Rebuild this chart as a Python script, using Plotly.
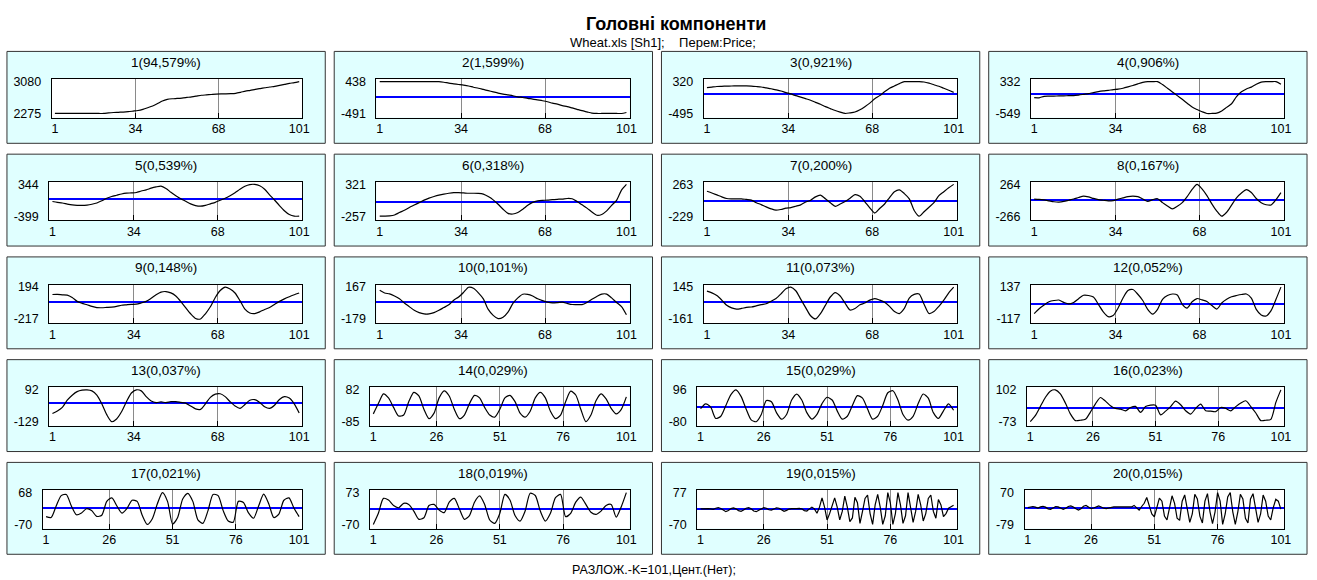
import plotly.graph_objects as go

W, H = 1317, 580
X_ODD = list(range(1, 102, 2))
X_ALL = list(range(1, 102))

TITLES = ["1(94,579%)", "2(1,599%)", "3(0,921%)", "4(0,906%)", "5(0,539%)",
          "6(0,318%)", "7(0,200%)", "8(0,167%)", "9(0,148%)", "10(0,101%)",
          "11(0,073%)", "12(0,052%)", "13(0,037%)", "14(0,029%)", "15(0,029%)",
          "16(0,023%)", "17(0,021%)", "18(0,019%)", "19(0,015%)", "20(0,015%)"]
Y_TOP = [3080, 438, 320, 332, 344, 321, 263, 264, 194, 167,
         145, 137, 92, 82, 96, 102, 68, 73, 77, 70]
Y_BOT = [2275, -491, -495, -549, -399, -257, -229, -266, -217, -179,
         -161, -117, -129, -85, -80, -73, -70, -70, -70, -79]
XT_A = [1, 34, 68, 101]
XT_B = [1, 26, 51, 76, 101]

S1 = [2275, 2275, 2275, 2275, 2275, 2275, 2275, 2275, 2275, 2275,
      2275, 2290, 2300, 2305, 2310, 2320, 2335, 2350, 2379, 2420,
      2465, 2525, 2590, 2630, 2647, 2655, 2665, 2680, 2695, 2715,
      2735, 2745, 2755, 2765, 2769, 2770, 2775, 2785, 2810, 2840,
      2860, 2885, 2905, 2925, 2945, 2960, 2985, 3010, 3035, 3055,
      3080]
S2 = [438, 438, 438, 438, 438, 438, 438, 438, 438, 438,
      438, 438, 438, 420, 395, 375, 355, 335, 310, 275,
      245, 210, 175, 140, 105, 75, 50, 25, -5, -25,
      -50, -70, -95, -120, -150, -190, -220, -260, -290, -330,
      -370, -410, -445, -480, -491, -491, -491, -491, -491, -491,
      -462]
S3 = [165, 180, 195, 201, 205, 208, 210, 210, 210, 205,
      195, 183, 160, 137, 110, 80, 40, 5, -40, -76,
      -115, -155, -210, -260, -320, -370, -419, -460, -495, -480,
      -457, -400, -320, -230, -120, -38, 60, 150, 210, 270,
      320, 320, 320, 320, 310, 280, 240, 201, 150, 100,
      46]
S4 = [-112, -115, -74, -70, -67, -64, -61, -58, -56, -40,
      -20, 0, 30, 55, 75, 90, 110, 125, 150, 186,
      225, 270, 310, 332, 332, 332, 250, 150, 47, -55,
      -158, -265, -372, -440, -500, -549, -549, -540, -480, -380,
      -279, -80, 50, 130, 180, 260, 320, 332, 332, 332,
      260]
S5 = [-55, -75, -90, -115, -135, -145, -148, -140, -120, -90,
      -40, 20, 60, 90, 120, 138, 145, 155, 190, 215,
      255, 285, 303, 250, 160, 80, 10, -50, -110, -150,
      -165, -145, -110, -75, -25, 20, 80, 150, 230, 300,
      340, 344, 310, 230, 100, -20, -150, -270, -360, -399,
      -395]
S6 = [-257, -255, -250, -234, -190, -150, -100, -55, -10, 35,
      72, 100, 125, 145, 160, 171, 170, 165, 160, 160,
      158, 145, 100, 40, -40, -130, -205, -217, -190, -130,
      -60, -5, 20, 30, 35, 44, 50, 55, 65, 60,
      10, -50, -110, -180, -240, -225, -160, -60, 30, 217,
      321]
S7 = [156, 130, 100, 70, 45, 40, 40, 40, 30, 20,
      -20, -50, -85, -115, -136, -125, -105, -95, -75, -53,
      -10, 17, 70, 96, 40, -20, -76, -40, 0, 50,
      105, 80, -6, -100, -180, -110, -40, 60, 150, 179,
      120, 40, -140, -229, -160, -90, -20, 90, 150, 210,
      263]
S8 = [19, 15, 5, -10, -25, -30, -20, 0, 20, 45,
      68, 55, 30, 10, 0, -10, -5, 19, 40, 60,
      68, 60, 20, -20, 10, 25, -40, -94, -143, -100,
      -40, 60, 180, 264, 190, 78, -60, -180, -266, -200,
      -80, 40, 120, 176, 130, 29, -40, -75, -79, 10,
      127]
S9 = [99, 100, 95, 91, 60, 10, -15, -34, -55, -70,
      -72, -68, -64, -55, -40, -34, -28, -26, -10, 10,
      50, 95, 130, 137, 120, 80, 10, -72, -150, -210,
      -217, -150, -60, 60, 150, 194, 170, 118, 20, -91,
      -140, -148, -125, -95, -70, -30, 10, 42, 70, 95,
      118]
S10 = [132, 103, 93, 70, 40, -5, -45, -85, -110, -124,
       -124, -110, -85, -55, -25, 25, 60, 110, 165, 155,
       105, 40, -75, -140, -175, -160, -105, -10, 50, 90,
       88, 70, 40, 20, 4, -5, -2, 4, -10, -22,
       -23, -23, 0, 35, 65, 91, 91, 50, 0, -45,
       -134]
S11 = [107, 90, 64, 20, -30, -55, -66, -60, -50, -46,
       -35, -23, -15, 10, 35, 80, 130, 145, 110, 30,
       -52, -130, -161, -110, -30, 50, 93, 60, -10, -75,
       -60, -25, -8, 20, 35, 20, 0, -40, -90, -109,
       -60, 40, 75, 79, -20, -109, -90, -40, 20, 90,
       145]
S12 = [-74, -35, -5, 20, 30, 34, 15, 3, 15, 45,
       72, 70, 58, 0, -60, -98, -90, -30, 50, 110,
       118, 80, 30, -40, -79, -40, 40, 70, 82, 75,
       0, -30, 20, 46, 35, 22, -10, -38, 10, 40,
       60, 70, 78, 82, 50, -40, -85, -93, -50, 40,
       137]
S13 = [-72, -55, -30, 20, 55, 80, 90, 92, 85, 55,
       -5, -80, -129, -110, -60, 10, 70, 92, 85, 45,
       15, 4, 8, 4, 10, 10, 5, 0, -20, -40,
       -43, -5, 40, 62, 65, 45, 10, -20, -37, -10,
       20, 24, 5, -25, -37, -15, 25, 45, 35, -5,
       -68]
S14 = [-44, 10, 61, 40, -10, -55, -50, 20, 69, 50,
       -20, -69, -40, 40, 77, 50, -20, -69, -50, 10,
       53, 40, -10, -50, -61, -20, 40, 53, 20, -40,
       -61, -30, 40, 69, 40, -30, -69, -50, 20, 75,
       55, -20, -85, -50, 25, 61, 35, -15, -44, -20,
       45]
S15 = [-8, 19, 0, -62, -50, 10, 70, 96, 60, -10,
       -70, -80, -40, 37, 30, -30, -66, -40, 40, 73,
       40, -30, -66, -40, 20, 55, 40, -20, -66, -50,
       10, 64, 50, -10, -66, -50, 10, 80, 91, 40,
       -40, -71, -50, 20, 73, 50, -30, -62, -20, 19,
       -17]
S16 = [-73, -40, 10, 60, 95, 102, 80, 30, -30, -67,
       -65, -60, -20, 25, 60, 40, 15, 0, -4, -13,
       5, 11, -22, 10, 18, 18, -35, -15, 10, 40,
       20, -13, -31, 0, 24, -13, -15, -18, 5, 0,
       -13, 10, 30, 42, 10, -25, -67, -65, -60, 33,
       102]
S17 = [-36, -40, 10, 55, 60, 10, -28, -20, -2, -10,
       -35, -30, 30, 45, 10, -21, 0, 35, 30, -30,
       -70, -45, 20, 68, 30, -68, -40, 40, 65, 30,
       -50, -65, -10, 60, 55, -10, -55, -60, 30, 25,
       -20, -43, 10, 61, 20, -40, -25, 35, 45, 0,
       -36]
S18 = [-70, -20, 47, 40, 15, 5, 25, 20, -10, -47,
       -40, 15, 20, -5, -17, 30, 47, 0, -47, -30,
       30, 58, 20, -50, -65, -20, 65, 40, -30, -55,
       -10, 70, 60, -10, -55, -20, 50, 65, -35, -20,
       30, 53, 20, -15, -25, -10, 15, 20, -37, 10,
       73]
S19 = [2, 3, 2, 3, 2, 0, 5, 8, 4, -5,
       -11, -6, 3, 6, 2, -6, -9, -3, 5, 8,
       2, -8, -11, -4, 3, 8, 5, -2, -4, 2,
       7, 5, -4, -9, -5, 1, 3, 2, 3, 4,
       2, -6, -8, 2, 10, 2, -18, 10, 53, 10,
       -49, -20, 20, 53, 10, -49, -10, 61, 10, -57,
       -40, 55, 30, -65, -10, 50, 66, -20, -70, 20,
       69, 10, -70, -30, 77, 30, -70, -20, 77, 20,
       -65, -30, 77, 10, -60, -10, 69, 20, -54, -20,
       50, 66, -10, -41, 45, 20, -34, -20, 5, 12,
       19]
S20 = [0, 3, 5, 2, -2, 3, 6, 2, -6, -8,
       -2, 5, 3, -3, -8, -3, 5, 8, 3, -6,
       -12, -5, 6, 10, 3, -5, -2, 5, 8, 3,
       -3, -5, -2, 3, 3, 3, 3, 3, 3, 3,
       2, 3, 10, 0, -12, 5, 20, 47, 10, -30,
       -43, 0, 44, 30, -40, -58, 0, 55, 20, -50,
       -60, 30, 59, 0, -69, -30, 62, 40, -40, -72,
       30, 65, -20, -75, -20, 70, 30, -79, -30, 50,
       70, -20, -79, -20, 62, 40, -50, -72, 40, 65,
       -10, -69, -30, 59, 30, -40, -58, 0, 39, 30,
       -7]

SERIES = [S1, S2, S3, S4, S5, S6, S7, S8, S9, S10,
          S11, S12, S13, S14, S15, S16, S17, S18, S19, S20]

FONT = "Arial, Liberation Sans, sans-serif"
COL_LEFT = [7, 336, 665, 994]
PW, PH = 320, 93
ROW_TOP0, ROW_STEP = 48, 104
TICK_SIZE = 12.5
TITLE_SIZE = 13.5

fig = go.Figure()
shapes = []
annotations = []
layout_axes = {}
X_RANGE = [-0.3, 102.3]


def px_x(v):
    return v / W


def px_y(v):
    return 1 - v / H


for i in range(20):
    r, c = divmod(i, 4)
    pl = COL_LEFT[c]
    pt = ROW_TOP0 + ROW_STEP * r
    labels = [str(Y_TOP[i]), str(Y_BOT[i])]
    lw = max(6.5 * sum(ch.isdigit() for ch in s) + 4.0 * s.count('-') for s in labels)
    x0 = pl + 19 + lw
    x1 = pl + 297
    y0 = pt + 28
    y1 = pt + 67

    shapes.append(dict(type="rect", xref="paper", yref="paper",
                       x0=px_x(pl), x1=px_x(pl + PW), y0=px_y(pt + PH), y1=px_y(pt),
                       fillcolor="#e0ffff", line=dict(color="#333333", width=1),
                       layer="below"))
    shapes.append(dict(type="rect", xref="paper", yref="paper",
                       x0=px_x(x0), x1=px_x(x1), y0=px_y(y1), y1=px_y(y0),
                       fillcolor="white", line=dict(width=0), layer="below"))

    annotations.append(dict(text=TITLES[i], xref="paper", yref="paper",
                            x=px_x(pl + PW / 2), y=px_y(pt + 11),
                            xanchor="center", yanchor="middle", showarrow=False,
                            font=dict(family=FONT, size=TITLE_SIZE, color="black")))

    n = i + 1
    xa = "xaxis" if n == 1 else f"xaxis{n}"
    ya = "yaxis" if n == 1 else f"yaxis{n}"
    xid = "x" if n == 1 else f"x{n}"
    yid = "y" if n == 1 else f"y{n}"
    xlid = f"x{20 + n}"
    xt = XT_A if i < 13 else XT_B
    inner = xt[1:-1]

    span = Y_TOP[i] - Y_BOT[i]
    yr = [Y_BOT[i] - 0.13 * span, Y_TOP[i] + 0.08 * span]

    # main x axis: inner gridlines and tick marks, plot frame
    layout_axes[xa] = dict(domain=[px_x(x0), px_x(x1)], anchor=yid, range=X_RANGE,
                           tickmode="array", tickvals=inner, showticklabels=False,
                           ticks="inside", ticklen=5, tickwidth=1, tickcolor="black",
                           showgrid=True, gridcolor="#8a8a8a", gridwidth=1,
                           showline=True, mirror=True, linecolor="black", linewidth=1,
                           zeroline=False, fixedrange=True)
    # overlay x axis: tick labels only
    layout_axes[f"xaxis{20 + n}"] = dict(domain=[px_x(x0), px_x(x1)], anchor=yid,
                                         overlaying=xid, range=X_RANGE, side="bottom",
                                         tickmode="array", tickvals=xt,
                                         ticktext=[str(v) for v in xt],
                                         ticks="", showgrid=False, showline=False,
                                         zeroline=False, ticklabelstandoff=2,
                                         showticklabels=True,
                                         tickfont=dict(family=FONT, size=TICK_SIZE, color="black"),
                                         fixedrange=True)
    layout_axes[ya] = dict(domain=[px_y(y1), px_y(y0)], anchor=xid, range=yr,
                           tickmode="array", tickvals=[Y_BOT[i], Y_TOP[i]],
                           ticktext=[str(Y_BOT[i]), str(Y_TOP[i])],
                           ticks="", showgrid=False, ticklabelstandoff=7,
                           tickfont=dict(family=FONT, size=TICK_SIZE, color="black"),
                           showline=True, mirror=True, linecolor="black", linewidth=1,
                           zeroline=True, zerolinecolor="#0000ff", zerolinewidth=1.6,
                           fixedrange=True)

    ys = SERIES[i]
    xs = X_ODD if len(ys) == len(X_ODD) else X_ALL
    shape = "spline" if len(ys) == len(X_ODD) else "linear"
    fig.add_trace(go.Scatter(x=xs, y=ys, mode="lines", xaxis=xid, yaxis=yid,
                             line=dict(color="black", width=1.2, shape=shape, smoothing=0.7),
                             showlegend=False, hoverinfo="skip"))
    # empty trace so the label axis is rendered
    fig.add_trace(go.Scatter(x=[], y=[], mode="lines", xaxis=xlid, yaxis=yid,
                             showlegend=False, hoverinfo="skip"))

annotations.append(dict(text="<b>Головні компоненти</b>", xref="paper", yref="paper",
                        x=px_x(680), y=px_y(20), xanchor="center", yanchor="middle",
                        showarrow=False, font=dict(family=FONT, size=18, color="black")))
annotations.append(dict(text="Wheat.xls [Sh1];\u00a0\u00a0\u00a0\u00a0Перем:Price;",
                        xref="paper", yref="paper", x=px_x(667), y=px_y(39),
                        xanchor="center", yanchor="middle", showarrow=False,
                        font=dict(family=FONT, size=13, color="black")))
annotations.append(dict(text="РАЗЛОЖ.-K=101,Цент.(Нет);", xref="paper", yref="paper",
                        x=px_x(657), y=px_y(573), xanchor="center", yanchor="middle",
                        showarrow=False, font=dict(family=FONT, size=12.5, color="black")))

fig.update_layout(width=W, height=H, margin=dict(l=0, r=0, t=0, b=0),
                  paper_bgcolor="white", plot_bgcolor="rgba(0,0,0,0)",
                  shapes=shapes, annotations=annotations, showlegend=False,
                  font=dict(family=FONT, size=12, color="black"),
                  **layout_axes)

fig.write_html("out.html", config={"displayModeBar": False},
               post_script="document.body.style.margin='0';"
                           "document.body.style.padding='0';"
                           "document.documentElement.style.overflow='hidden';")
